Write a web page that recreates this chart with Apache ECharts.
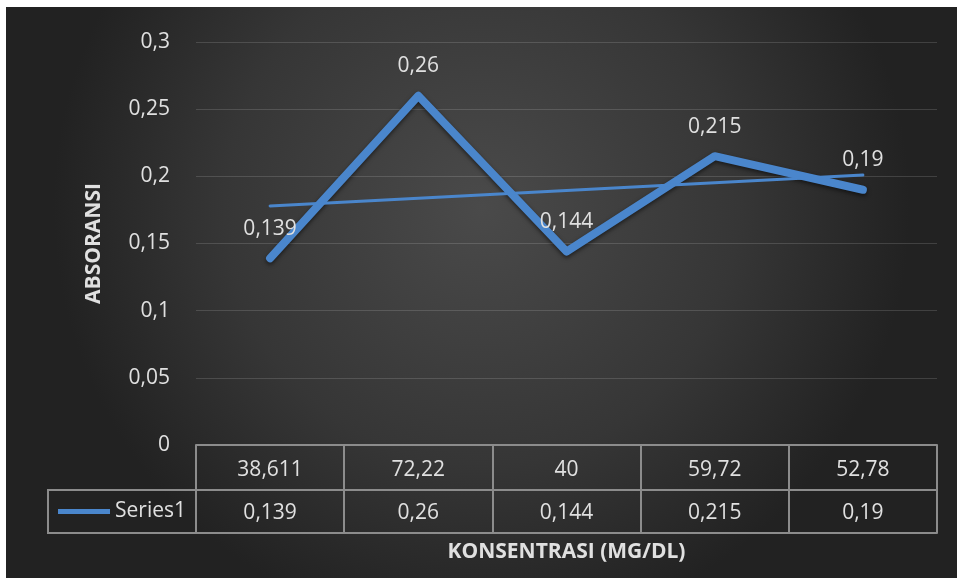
<!DOCTYPE html>
<html>
<head>
<meta charset="utf-8">
<script src="https://cdn.jsdelivr.net/npm/echarts@6/dist/echarts.min.js"></script>
<style>
html, body { margin: 0; padding: 0; background: #fff; }
#chart { position: absolute; left: 6px; top: 7px; width: 951px; height: 571px; }
</style>
</head>
<body>
<div id="chart"></div>
<script>
// data
var categories = [38.611, 72.22, 40, 59.72, 52.78];
var absorbance = [0.139, 0.26, 0.144, 0.215, 0.19];
var trendEnds = [0.178, 0.201];   // linear trendline, first and last point
var yMin = 0, yMax = 0.3, yStep = 0.05;

var FONT = "'Open Sans', 'DejaVu Sans', sans-serif";
var TXT = '#e0e0e0';
var TABLE_LINE = '#8c8c8c';

function comma(v){
    return String(+(+v).toFixed(4)).replace('.', ',');
}

var trendData = categories.map(function(c, i){
    if (i === 0) return trendEnds[0];
    if (i === categories.length - 1) return trendEnds[1];
    return null;
});

var chart = echarts.init(document.getElementById('chart'));
var option = {
    backgroundColor: {
        type: 'radial', x: 0.5, y: 0.35, r: 0.75,
        colorStops: [
            { offset: 0, color: '#4a4a4a' },
            { offset: 0.6, color: '#363636' },
            { offset: 1, color: '#222222' }
        ]
    },
    animation: false,
    grid: { left: 190, right: 20, top: 35, bottom: 133 },
    legend: {
        data: ['Series1'],
        left: 52, top: 494,
        padding: 0,
        icon: 'rect',
        itemWidth: 52, itemHeight: 5,
        textStyle: { color: TXT, fontSize: 21, fontFamily: FONT }
    },
    xAxis: [{
        type: 'category',
        data: categories.map(comma),
        position: 'bottom',
        axisLine: { show: true, lineStyle: { color: TABLE_LINE, width: 2 } },
        axisTick: { show: true, inside: false, length: 88, lineStyle: { color: TABLE_LINE, width: 2 } },
        axisLabel: { margin: 15, color: TXT, fontSize: 21, fontFamily: FONT }
    }, {
        type: 'category',
        data: absorbance.map(comma),
        position: 'bottom',
        offset: 45,
        axisLine: { show: true, lineStyle: { color: TABLE_LINE, width: 2 } },
        axisTick: { show: false },
        axisLabel: { margin: 13, color: TXT, fontSize: 21, fontFamily: FONT }
    }, {
        type: 'category',
        data: categories.map(comma),
        position: 'bottom',
        offset: 88,
        axisLine: { show: true, lineStyle: { color: TABLE_LINE, width: 2 } },
        axisTick: { show: false },
        axisLabel: { show: false },
        name: 'KONSENTRASI (MG/DL)',
        nameLocation: 'middle',
        nameGap: 9,
        nameTextStyle: { color: TXT, fontSize: 21, fontWeight: 'bold', fontFamily: FONT }
    }],
    yAxis: {
        type: 'value',
        min: yMin, max: yMax, interval: yStep,
        axisLine: { show: false },
        axisTick: { show: false },
        splitLine: { lineStyle: { color: 'rgba(255,255,255,0.14)', width: 1 } },
        axisLabel: { margin: 26, color: TXT, fontSize: 21, fontFamily: FONT, formatter: comma },
        name: 'ABSORANSI',
        nameLocation: 'middle',
        nameGap: 91,
        nameTextStyle: { color: TXT, fontSize: 21, fontWeight: 'bold', fontFamily: FONT }
    },
    graphic: [{
        type: 'polyline',
        shape: { points: [[190, 483], [42, 483], [42, 526], [190, 526]] },
        style: { stroke: TABLE_LINE, lineWidth: 2, fill: null }
    }],
    series: [{
        name: 'Series1',
        type: 'line',
        data: absorbance,
        showSymbol: true,
        symbol: 'circle',
        symbolSize: 2,
        lineStyle: {
            color: '#4a86cc', width: 8, cap: 'round', join: 'round',
            shadowColor: 'rgba(0,0,0,0.55)', shadowBlur: 4, shadowOffsetY: 2
        },
        itemStyle: { color: '#4a86cc' },
        label: {
            show: true, position: 'top', distance: 18,
            color: TXT, fontSize: 21, fontFamily: FONT,
            formatter: function(p){ return comma(p.value); }
        },
        z: 2
    }, {
        name: 'Trend',
        type: 'line',
        data: trendData,
        connectNulls: true,
        symbol: 'none',
        lineStyle: { color: '#4a86cc', width: 3, cap: 'round' },
        z: 3
    }]
};
chart.setOption(option, true);
window.onresize = function(){
    chart.resize();
};
</script>
</body>
</html>
